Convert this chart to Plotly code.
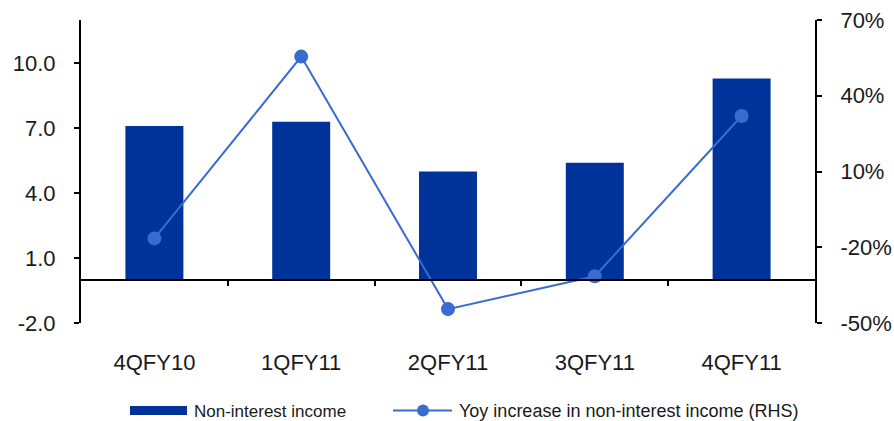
import plotly.graph_objects as go

# Quarterly data
quarters = ["4QFY10", "1QFY11", "2QFY11", "3QFY11", "4QFY11"]
non_interest_income = [7.1, 7.3, 5.0, 5.4, 9.3]
yoy_increase_pct = [-16.5, 55.5, -44.5, -31.5, 32.0]

left_ticks = [-2, 1, 4, 7, 10]
right_ticks = [-50, -20, 10, 40, 70]

BAR_COLOR = "#003399"
LINE_COLOR = "#3A6BD1"
TEXT_COLOR = "#1a1a1a"
FONT = "Liberation Sans, Arial, sans-serif"

W, H = 894, 421
M_L, M_R, M_T, M_B = 81, 79, 20, 98
PLOT_W = W - M_L - M_R
PLOT_H = H - M_T - M_B


def px_x(px):
    return (px - M_L) / PLOT_W


def px_y(py):
    return (H - M_B - py) / PLOT_H


fig = go.Figure()

fig.add_trace(go.Bar(
    x=quarters, y=non_interest_income, name="Non-interest income",
    marker=dict(color=BAR_COLOR, line=dict(width=0)),
    width=0.395, showlegend=False,
))

fig.add_trace(go.Scatter(
    x=quarters, y=yoy_increase_pct, yaxis="y2",
    name="Yoy increase in non-interest income (RHS)",
    mode="lines+markers",
    line=dict(color=LINE_COLOR, width=2),
    marker=dict(color=LINE_COLOR, size=14),
    showlegend=False,
))

# carrier trace for the baseline axis with category-boundary ticks
fig.add_trace(go.Scatter(x=[None], y=[None], xaxis="x2", yaxis="y",
                         showlegend=False, hoverinfo="skip"))

fig.update_layout(
    width=W, height=H,
    margin=dict(l=M_L, r=M_R, t=M_T, b=M_B, autoexpand=False),
    plot_bgcolor="white", paper_bgcolor="white",
    font=dict(family=FONT, color=TEXT_COLOR, size=22),
    xaxis=dict(
        type="category", showline=False, showgrid=False, zeroline=False,
        ticks="", ticklabelstandoff=24, automargin=False,
        tickfont=dict(size=22, color=TEXT_COLOR),
    ),
    xaxis2=dict(
        overlaying="x", anchor="free", position=2 / 14, side="bottom",
        range=[-0.5, 4.5], tickmode="array", tickvals=[0.5, 1.5, 2.5, 3.5],
        ticks="outside", ticklen=5, tickwidth=2, tickcolor="black",
        showline=True, linecolor="black", linewidth=2, automargin=False,
        showticklabels=False, showgrid=False, zeroline=False,
    ),
    yaxis=dict(
        range=[-2, 12], tickmode="array", tickvals=left_ticks,
        ticktext=[f"{v:.1f}" for v in left_ticks],
        ticks="outside", ticklen=5, tickwidth=2, tickcolor="black",
        showline=True, linecolor="black", linewidth=2, automargin=False,
        showgrid=False, zeroline=False, ticklabelstandoff=14,
        tickfont=dict(size=22, color=TEXT_COLOR),
    ),
    yaxis2=dict(
        overlaying="y", side="right", anchor="x",
        range=[-50, 70], tickmode="array", tickvals=right_ticks,
        ticktext=[f"{v}%" for v in right_ticks],
        ticks="outside", ticklen=5, tickwidth=2, tickcolor="black",
        showline=True, linecolor="black", linewidth=2, automargin=False,
        showgrid=False, zeroline=False, ticklabelstandoff=14,
        tickfont=dict(size=22, color=TEXT_COLOR),
    ),
)

# Legend drawn below the plot
fig.add_shape(type="rect", xref="paper", yref="paper",
              x0=px_x(130), x1=px_x(187), y0=px_y(415), y1=px_y(406),
              fillcolor=BAR_COLOR, line=dict(width=0))
fig.add_shape(type="line", xref="paper", yref="paper",
              x0=px_x(393), x1=px_x(452), y0=px_y(410.5), y1=px_y(410.5),
              line=dict(color=LINE_COLOR, width=2))
fig.add_shape(type="circle", xref="paper", yref="paper",
              x0=px_x(417), x1=px_x(429), y0=px_y(416.5), y1=px_y(404.5),
              fillcolor=LINE_COLOR, line=dict(width=0))
fig.add_annotation(text="Non-interest income", xref="paper", yref="paper",
                   x=px_x(192), y=px_y(411), xanchor="left", yanchor="middle",
                   showarrow=False, font=dict(size=17, color=TEXT_COLOR))
fig.add_annotation(text="Yoy increase in non-interest income (RHS)",
                   xref="paper", yref="paper",
                   x=px_x(457), y=px_y(411), xanchor="left", yanchor="middle",
                   showarrow=False, font=dict(size=18, color=TEXT_COLOR))

fig.write_html("out.html")
